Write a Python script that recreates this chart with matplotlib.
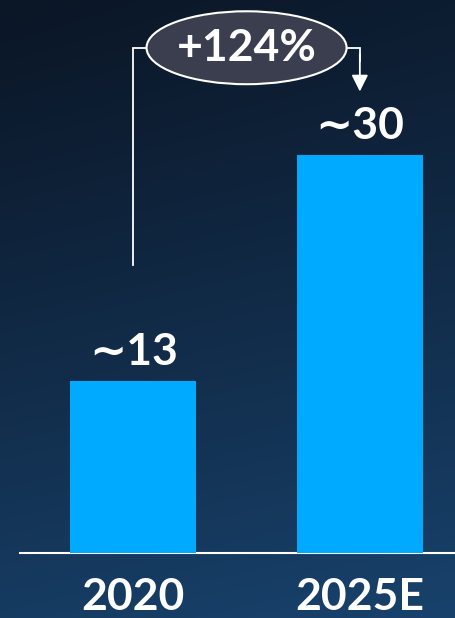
import numpy as np
import matplotlib
matplotlib.use("Agg")
import matplotlib.pyplot as plt
from matplotlib.patches import Ellipse
from matplotlib.colors import to_rgb

plt.rcParams['font.family'] = ['Lato', 'DejaVu Sans']
plt.rcParams['font.weight'] = 'bold'

# ── 데이터 ─────────────────────────────────────────
years = ["2020", "2025E"]
values = [13, 30]
value_labels = ["\u223c13", "\u223c30"]
growth_label = "+124%"

BAR_COLOR = "#00aaff"
BG_TOP = "#0b1626"
BG_BOTTOM = "#18426c"

fig = plt.figure(figsize=(4.55, 6.18), dpi=100)

# 배경 그라디언트 (위쪽 어둡고 아래쪽 푸른색)
bg = fig.add_axes([0, 0, 1, 1], zorder=-10)
h, w = 300, 200
ty = np.linspace(0, 1, h)[:, None]
tx = np.linspace(0, 1, w)[None, :]
mix = np.clip(0.85 * ty ** 1.1 + 0.15 * tx, 0, 1)[..., None]
c0 = np.array(to_rgb(BG_TOP))
c1 = np.array(to_rgb(BG_BOTTOM))
img = c0 + (c1 - c0) * mix
bg.imshow(img, aspect="auto", extent=[0, 1, 0, 1], origin="upper")
bg.set_axis_off()

# 막대 차트
ax = fig.add_axes([20 / 455, 65 / 618, 435 / 455, 553 / 618])
ax.set_facecolor("none")
x = np.arange(len(years))
ax.bar(x, values, width=0.556, color=BAR_COLOR, zorder=3)
ax.set_xlim(-0.5, 1.42)
ax.set_ylim(0, 41.7)

for s in ["top", "right", "left"]:
    ax.spines[s].set_visible(False)
ax.spines["bottom"].set_color("white")
ax.spines["bottom"].set_linewidth(1.5)
ax.set_yticks([])
ax.set_xticks(x)
ax.set_xticklabels(years, fontsize=32, color="white", fontweight="bold")
ax.tick_params(axis="x", length=0, pad=17)

# 값 라벨
for xi, v, lab in zip(x, values, value_labels):
    ax.annotate(lab, xy=(xi, v), xytext=(0, 16), textcoords="offset pixels",
                ha="center", va="baseline", fontsize=32, color="white",
                fontweight="bold")

# 증가율 브래킷
top_y = 38.1
left_start = values[0] + 8.7
arrow_tip = values[1] + 4.8
ax.plot([x[0], x[0], x[1], x[1]], [left_start, top_y, top_y, top_y - 1],
        color="white", lw=1.3, zorder=4, solid_joinstyle="miter")
ax.annotate("", xy=(x[1], arrow_tip), xytext=(x[1], top_y - 0.5),
            arrowprops=dict(arrowstyle="-|>,head_length=0.5,head_width=0.25",
                            mutation_scale=20, color="white", lw=1.3,
                            shrinkA=0, shrinkB=0), zorder=4)

mid = (x[0] + x[1]) / 2
badge = Ellipse((mid, top_y), width=0.883, height=5.5, facecolor="#3b3e4f",
                edgecolor="white", lw=1.5, zorder=5)
ax.add_patch(badge)
ax.text(mid, top_y, growth_label, ha="center", va="center", fontsize=32,
        color="white", fontweight="bold", zorder=6)

fig.savefig("out.png", dpi=100)
